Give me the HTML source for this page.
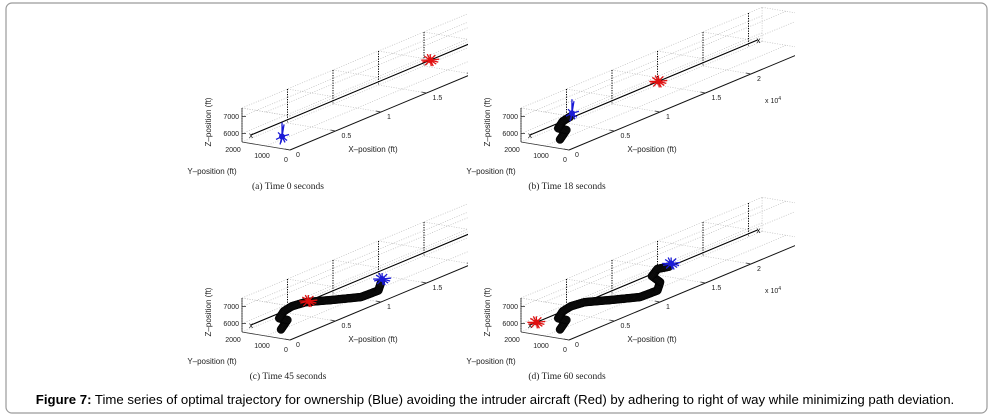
<!DOCTYPE html>
<html><head><meta charset="utf-8"><style>
html,body{margin:0;padding:0;background:#fff;}
svg{display:block;font-family:"Liberation Sans",sans-serif;}
.tk{font-size:7px;fill:#222;}
.lb{font-size:8px;fill:#222;}
.cap{font-family:"Liberation Serif",serif;font-size:9.5px;fill:#222;}
</style></head><body>
<svg id="fig" width="993" height="417" viewBox="0 0 993 417">
<defs>
<clipPath id="clipAC"><rect x="150" y="0" width="318" height="200"/></clipPath>
<clipPath id="clipBD"><rect x="150" y="0" width="366" height="200"/></clipPath>
</defs>
<rect x="6" y="3" width="981" height="410" rx="6" fill="#fff" stroke="#9a9a9a" stroke-width="1.2"/>
<text x="495" y="404" text-anchor="middle" style="font-size:13.2px"><tspan font-weight="bold">Figure 7:</tspan> Time series of optimal trajectory for ownership (Blue) avoiding the intruder aircraft (Red) by adhering to right of way while minimizing path deviation.</text>
</svg>
<script>
// ownship trajectory (X in 1e4 ft, altitude deviation in ft)
const trajX = [0.33, 0.40, 0.31, 0.36, 0.45, 0.60, 0.88, 1.21, 1.40, 1.43, 1.34, 1.40, 1.54];
const trajDev = [-1000, -600, -300, 0, 100, 0, -500, -1060, -1100, -670, -120, 170, 0];
const panelCount = [1, 5, 10, 13];
const intruderX = [1.97, 1.41, 0.63, 0.07];
const panelCaptions = ["(a)  Time 0 seconds", "(b)  Time 18 seconds", "(c)  Time 45 seconds", "(d)  Time 60 seconds"];
const panelXmax = [2.65, 2.65, 2.65, 2.65];
const xTicks = ["0", "0.5", "1", "1.5", "2"];
const zTicks = [6000, 7000];
const yTicks = ["2000", "1000", "0"];
const lineY = 1625, lineZ = 6000;

const NS = "http://www.w3.org/2000/svg";
const svg = document.getElementById('fig');
function mk(tag, attrs, parent, text){
  const e = document.createElementNS(NS, tag);
  for (const k in attrs) e.setAttribute(k, attrs[k]);
  if (text !== undefined) e.textContent = text;
  parent.appendChild(e);
  return e;
}
function P(X, Y, Z){
  return [290 + 91*X - 24*(Y/1000), 150 - 38*X - 4*(Y/1000) - 17*(Z-5500)/1000];
}
function line(g, a, b, st){
  const l = mk('line', {x1:a[0].toFixed(1), y1:a[1].toFixed(1), x2:b[0].toFixed(1), y2:b[1].toFixed(1)}, g);
  for (const k in st) l.setAttribute(k, st[k]);
  return l;
}
function star(g, x, y, color, tall){
  const s = mk('g', {}, g);
  const rays = tall ? [[0,-14],[1,-10],[-2,8],[3,6],[-6,3],[7,-2],[-4,-4],[5,4],[2,-12],[-1,6]]
                    : [[-9,0],[9,-1],[0,-6],[1,6],[-6,-4],[6,4],[-5,5],[5,-5],[-8,2],[8,2],[-3,-6],[3,6]];
  rays.forEach(r => mk('line', {x1:x, y1:y, x2:x+r[0], y2:y+r[1], stroke:color, 'stroke-width':1.3}, s));
  mk('circle', {cx:x, cy:y, r:3, fill:color}, s);
  return s;
}

for (let p = 0; p < 4; p++){
  const ox = (p % 2) * 279, oy = Math.floor(p / 2) * 190;
  const outer = mk('g', {transform:`translate(${ox},${oy})`}, svg);
  
  
  const g = mk('g', {'clip-path': (p % 2) ? 'url(#clipBD)' : 'url(#clipAC)'}, outer);
  const xm = panelXmax[p];
  const grid = {stroke:'#bbb', 'stroke-width':0.7, 'stroke-dasharray':'1,1.5'};
  [[2000,6000],[2000,7000],[2000,7500],[1000,5500],[2000,5500],[0,7500],[1000,7500]].forEach(c=>{
    line(g, P(0,c[0],c[1]), P(xm,c[0],c[1]), grid);
  });
  for (let i = 0; i < xTicks.length; i++){
    const X = i*0.5; if (X > xm) break;
    line(g, P(X,0,5500), P(X,2000,5500), grid);
    line(g, P(X,0,7500), P(X,2000,7500), grid);
  }
  line(g, P(0,0,7500), P(0,2000,7500), grid);
  line(g, P(xm,0,5500), P(xm,0,7500), grid);
  line(g, P(xm,2000,5500), P(xm,2000,7500), grid);
  line(g, P(xm,0,7500), P(xm,2000,7500), grid);
  line(g, P(xm,0,5500), P(xm,2000,5500), grid);
  for (let i = 0; i*0.5 <= xm; i++){
    const X = i*0.5;
    const v = line(g, P(X,2000,7500), P(X,2000,5550), {stroke:'#000','stroke-width':1,'stroke-dasharray':'1.2,1.3'});
    
    
  }
  const xa = line(g, P(0,0,5500), P(xm,0,5500), {stroke:'#111','stroke-width':1});
  
  
  const ya = line(g, P(0,0,5500), P(0,2000,5500), {stroke:'#333','stroke-width':0.8});
  
  
  const za = line(g, P(0,2000,5500), P(0,2000,7500), {stroke:'#333','stroke-width':0.8});
  
  
  xTicks.forEach((t, i) => {
    const X = i*0.5; if (X > xm - 0.1) return;
    const a = P(X,0,5500);
    line(g, a, [a[0]-5, a[1]-1], {stroke:'#333','stroke-width':0.8});
    const tx = mk('text', {x:a[0]+6, y:a[1]+7, class:'tk'}, g, t);
    
    
  });
  zTicks.forEach(z => {
    const a = P(0,2000,z);
    line(g, a, [a[0]+4, a[1]], {stroke:'#333','stroke-width':0.8});
    const tz = mk('text', {x:a[0]-3, y:a[1]+2.5, class:'tk', 'text-anchor':'end'}, g, String(z));
    
    
  });
  yTicks.forEach((t, i) => {
    const a = P(0, 2000 - i*1000, 5500);
    const ty = mk('text', {x:a[0]-4 + (i===0?-5:0), y:a[1]+12 - (i===0?2:0), class:'tk', 'text-anchor':'middle'}, g, t);
    
    
  });
  if (p % 2){
    const e = mk('text', {x:486, y:103, class:'tk'}, g);
    e.innerHTML = 'x 10<tspan dy="-3" style="font-size:5px">4</tspan>';
    
    
  }
  const xl = mk('text', {x:373, y:152, class:'lb', 'text-anchor':'middle'}, g, 'X\u2013position (ft)');
  
  
  const yl = mk('text', {x:212, y:174, class:'lb', 'text-anchor':'middle'}, g, 'Y\u2013position (ft)');
  
  
  const zl = mk('text', {x:0, y:0, class:'lb', 'text-anchor':'middle', transform:'translate(211,122) rotate(-90)'}, g, 'Z\u2013position (ft)');
  
  
  const cp = mk('text', {x:288, y:189, class:'cap', 'text-anchor':'middle'}, g, panelCaptions[p]);
  
  

  const np = line(g, P(0,lineY,lineZ), P(2.5,lineY,lineZ), {stroke:'#000','stroke-width':1.1});
  
  
  const s0 = P(0,lineY,lineZ);
  const m0 = mk('text', {x:s0[0], y:s0[1]+3, 'font-size':8, 'text-anchor':'middle'}, g, 'x');
  
  
  const s1 = P(2.5,lineY,lineZ);
  const m1 = mk('text', {x:s1[0]+1, y:s1[1]+3, 'font-size':8, 'text-anchor':'middle'}, g, 'x');
  
  

  const n = panelCount[p];
  const tg = mk('g', {}, g);
  
  
  const pts = [];
  for (let i = 0; i < n; i++) pts.push(P(trajX[i], lineY, lineZ + trajDev[i]));
  if (n > 1){
    for (let i = 0; i < n-1; i++){
      const a = pts[i], b = pts[i+1];
      const d = Math.hypot(b[0]-a[0], b[1]-a[1]);
      const k = Math.max(1, Math.ceil(d/1.2));
      for (let j = 0; j < k; j++){
        const t = j/k;
        mk('circle', {cx:(a[0]+(b[0]-a[0])*t).toFixed(1), cy:(a[1]+(b[1]-a[1])*t).toFixed(1), r:4, fill:'#111', stroke:'#000','stroke-width':0.5}, tg);
      }
    }
  }
  const own = pts[n-1];
  const bs = star(g, own[0]+1, own[1]-3, '#1a1ad6', p < 2);
  
  
  const ip = P(intruderX[p], lineY, lineZ);
  const rs = star(g, ip[0], ip[1], '#e01010', false);
  
  
}
</script>
</body></html>
